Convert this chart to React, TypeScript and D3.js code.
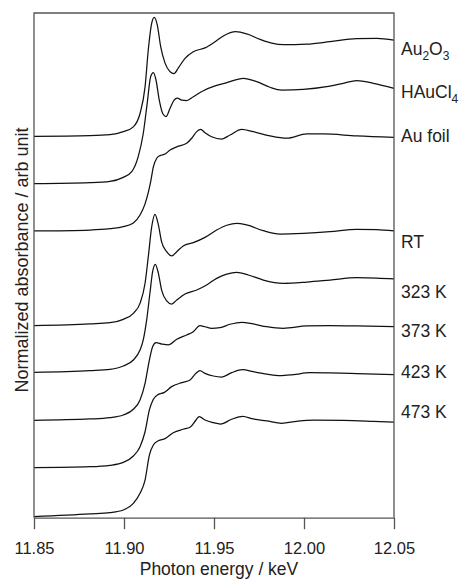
import React, { useEffect, useRef } from "react";
import * as d3 from "d3";

// spectra: [photon energy keV, normalized absorbance]
const au2o3 = [
  [11.85, 0.01], [11.8811, 0.017], [11.8922, 0.027], [11.8996, 0.059], [11.9052, 0.11],
  [11.9089, 0.25], [11.9117, 0.53], [11.9135, 0.92], [11.9154, 1.2], [11.9168, 1.26],
  [11.9185, 1.18], [11.9204, 0.95], [11.9228, 0.78], [11.9256, 0.69], [11.9278, 0.67],
  [11.9302, 0.73], [11.9339, 0.83], [11.9385, 0.9], [11.945, 0.94], [11.9506, 1.005],
  [11.9552, 1.065], [11.9621, 1.11], [11.9682, 1.087], [11.9756, 1.03], [11.9821, 0.99],
  [11.9885, 0.974], [12.0015, 0.98], [12.0144, 1.005], [12.0293, 1.037], [12.0404, 1.04],
  [12.05, 1.023],
];

const haucl4 = [
  [11.85, 0.012], [11.8811, 0.023], [11.8922, 0.037], [11.8996, 0.079], [11.9043, 0.138],
  [11.9079, 0.296], [11.9107, 0.54], [11.9129, 0.86], [11.9148, 1.137], [11.9163, 1.18],
  [11.9178, 1.1], [11.9196, 0.89], [11.9215, 0.75], [11.9233, 0.717], [11.9256, 0.805],
  [11.9278, 0.89], [11.9296, 0.913], [11.9321, 0.89], [11.9348, 0.885], [11.9385, 0.927],
  [11.9441, 0.99], [11.9506, 1.04], [11.9571, 1.074], [11.9663, 1.12], [11.9737, 1.085],
  [11.9811, 1.026], [11.9876, 0.997], [11.9996, 1.004], [12.0126, 1.032], [12.0218, 1.068],
  [12.0293, 1.096], [12.0385, 1.068], [12.05, 1.015],
];

const auFoil = [
  [11.85, 0.015], [11.8811, 0.025], [11.8922, 0.039], [11.8996, 0.06], [11.9052, 0.1],
  [11.9089, 0.183], [11.9117, 0.3], [11.9135, 0.42], [11.9148, 0.53], [11.9163, 0.69],
  [11.9182, 0.78], [11.92, 0.807], [11.9228, 0.824], [11.9256, 0.866], [11.9293, 0.9],
  [11.9348, 0.937], [11.9376, 0.99], [11.9404, 1.06], [11.9426, 1.084], [11.945, 1.048],
  [11.9487, 1.006], [11.9543, 0.982], [11.9589, 1.024], [11.9654, 1.084], [11.9718, 1.059],
  [11.9811, 1.014], [11.9904, 0.99], [12.0015, 1.035], [12.0107, 1.035], [12.0293, 1.014],
  [12.05, 1.0],
];

const rt = [
  [11.85, 0.019], [11.8811, 0.037], [11.8922, 0.05], [11.8996, 0.086], [11.9052, 0.149],
  [11.9089, 0.254], [11.9117, 0.465], [11.9135, 0.745], [11.9154, 1.06], [11.9172, 1.19],
  [11.9191, 1.078], [11.9209, 0.9], [11.9237, 0.797], [11.9265, 0.752], [11.9293, 0.797],
  [11.9329, 0.857], [11.9385, 0.892], [11.945, 0.948], [11.9515, 1.025], [11.9571, 1.075],
  [11.9626, 1.096], [11.9682, 1.078], [11.9774, 1.018], [11.9867, 0.983], [11.9996, 0.99],
  [12.0144, 1.007], [12.0293, 1.033], [12.0404, 1.028], [12.05, 1.015],
];

const k323 = [
  [11.85, 0.029], [11.8811, 0.046], [11.8922, 0.06], [11.8996, 0.095], [11.9052, 0.158],
  [11.9089, 0.263], [11.9107, 0.37], [11.9126, 0.58], [11.9144, 0.86], [11.9159, 1.087],
  [11.9174, 1.165], [11.9191, 1.07], [11.9209, 0.894], [11.9237, 0.78], [11.9265, 0.747],
  [11.9293, 0.789], [11.9339, 0.852], [11.9404, 0.894], [11.9459, 0.947], [11.9515, 1.017],
  [11.9571, 1.062], [11.9626, 1.08], [11.9691, 1.052], [11.9774, 0.999], [11.9885, 0.965],
  [12.0015, 0.978], [12.0144, 0.999], [12.0293, 1.024], [12.0404, 1.02], [12.05, 1.01],
];

const k373 = [
  [11.85, 0.024], [11.8811, 0.038], [11.8922, 0.052], [11.8996, 0.08], [11.9052, 0.14],
  [11.9089, 0.238], [11.9117, 0.413], [11.9141, 0.658], [11.9159, 0.798], [11.9178, 0.84],
  [11.9209, 0.826], [11.9246, 0.816], [11.9293, 0.876], [11.9348, 0.921], [11.9385, 0.956],
  [11.9422, 1.019], [11.945, 1.008], [11.9487, 0.992], [11.9533, 0.998], [11.9589, 1.034],
  [11.9654, 1.055], [11.9718, 1.037], [11.9793, 1.008], [11.9885, 0.992], [12.0015, 1.016],
  [12.0144, 1.019], [12.0293, 1.016], [12.05, 1.008],
];

const k423 = [
  [11.85, 0.026], [11.8811, 0.036], [11.8922, 0.051], [11.8996, 0.082], [11.9052, 0.149],
  [11.9089, 0.247], [11.9117, 0.404], [11.9141, 0.633], [11.9163, 0.745], [11.9191, 0.797],
  [11.9222, 0.815], [11.9265, 0.878], [11.9321, 0.92], [11.9367, 0.948], [11.94, 1.018],
  [11.9422, 1.046], [11.945, 1.018], [11.9496, 0.99], [11.9543, 0.979], [11.9598, 1.025],
  [11.9659, 1.056], [11.9718, 1.035], [11.9793, 1.01], [11.9867, 0.993], [11.9941, 1.004],
  [12.0033, 1.025], [12.0144, 1.022], [12.0293, 1.015], [12.05, 1.004],
];

const k473 = [
  [11.85, 0.01], [11.8811, 0.039], [11.8922, 0.053], [11.8996, 0.081], [11.9052, 0.151],
  [11.9089, 0.257], [11.9117, 0.396], [11.9141, 0.659], [11.9163, 0.765], [11.9191, 0.81],
  [11.9228, 0.831], [11.9274, 0.894], [11.9329, 0.93], [11.9367, 0.951], [11.94, 1.027],
  [11.9418, 1.063], [11.945, 1.027], [11.9496, 0.999], [11.9537, 0.985], [11.9598, 1.035],
  [11.9659, 1.066], [11.9718, 1.038], [11.9793, 1.017], [11.9876, 0.993], [11.9959, 1.014],
  [12.0052, 1.027], [12.0218, 1.024], [12.0385, 1.014], [12.05, 1.006],
];

const spectra = [au2o3, haucl4, auFoil, rt, k323, k373, k423, k473];
const offsets = [4.0, 3.5, 3.0, 2.0, 1.5, 1.0, 0.5, 0.0];
// label: [main, subscript, main, subscript]
const labels = [
  ["Au", "2", "O", "3"],
  ["HAuCl", "4"],
  ["Au foil"],
  ["RT"],
  ["323 K"],
  ["373 K"],
  ["423 K"],
  ["473 K"],
];
const labelLevels = [4.865, 4.413, 3.95, 2.836, 2.31, 1.897, 1.469, 1.049];

const xTicks = [11.85, 11.9, 11.95, 12.0, 12.05];
const xTitle = "Photon energy / keV";
const yTitle = "Normalized absorbance / arb unit";

const W = 459;
const H = 579;
const FONT = "'Liberation Sans', Arial, Helvetica, sans-serif";

export default function App() {
  const ref = useRef<SVGSVGElement>(null);

  useEffect(() => {
    const margin = { top: 13, right: 65, bottom: 61.3, left: 34 };
    const innerWidth = W - margin.left - margin.right;
    const innerHeight = H - margin.top - margin.bottom;

    const svg = d3.select(ref.current);
    svg.selectAll("*").remove();
    const g = svg.append("g").attr("transform", `translate(${margin.left},${margin.top})`);

    const x = d3.scaleLinear().domain([11.85, 12.05]).range([0, innerWidth]);
    const y = d3.scaleLinear().domain([0, 5.307]).range([innerHeight, 0]);

    const line = d3
      .line<number[]>()
      .x((d) => x(d[0]))
      .y((d) => y(d[1]))
      .curve(d3.curveMonotoneX);

    spectra.forEach((s, i) => {
      g.append("path")
        .datum(s.map((d) => [d[0], d[1] + offsets[i]]))
        .attr("d", line)
        .attr("fill", "none")
        .attr("stroke", "#111")
        .attr("stroke-width", 1.25)
        .attr("stroke-linejoin", "round");
    });

    // frame
    const frameColor = "#555";
    g.append("path")
      .attr("d", `M0,${innerHeight}V0H${innerWidth}V${innerHeight}`)
      .attr("fill", "none")
      .attr("stroke", frameColor)
      .attr("stroke-width", 1.3);

    const xAxis = d3
      .axisBottom(x)
      .tickValues(xTicks)
      .tickFormat(d3.format(".2f"))
      .tickSize(11.5)
      .tickSizeOuter(0)
      .tickPadding(13);

    const ax = g.append("g").attr("transform", `translate(0,${innerHeight})`).call(xAxis);
    ax.select(".domain").attr("stroke", frameColor).attr("stroke-width", 1.3);
    ax.selectAll(".tick line").attr("stroke", frameColor).attr("stroke-width", 1.3);
    ax.selectAll(".tick text")
      .attr("fill", "#222")
      .style("font-family", FONT)
      .style("font-size", "16.5px");

    // sample labels
    labels.forEach((parts, i) => {
      const t = g
        .append("text")
        .attr("x", innerWidth + 7)
        .attr("y", y(labelLevels[i]))
        .attr("fill", "#222")
        .style("font-family", FONT)
        .style("font-size", "17.5px");
      parts.forEach((p, j) => {
        const sub = j % 2 === 1;
        t.append("tspan")
          .attr("dy", sub ? 4.5 : j > 0 ? -4.5 : 0)
          .style("font-size", sub ? "12px" : "17.5px")
          .text(p);
      });
    });

    // titles
    svg.append("text")
      .attr("x", 219)
      .attr("y", 575)
      .attr("text-anchor", "middle")
      .attr("fill", "#222")
      .style("font-family", FONT)
      .style("font-size", "17.5px")
      .text(xTitle);

    svg.append("text")
      .attr("transform", `translate(28,260) rotate(-90)`)
      .attr("text-anchor", "middle")
      .attr("fill", "#222")
      .style("font-family", FONT)
      .style("font-size", "18px")
      .text(yTitle);
  }, []);

  return (
    <svg
      ref={ref}
      width={W}
      height={H}
      style={{ position: "absolute", left: 0, top: 0, background: "#fff" }}
    />
  );
}
